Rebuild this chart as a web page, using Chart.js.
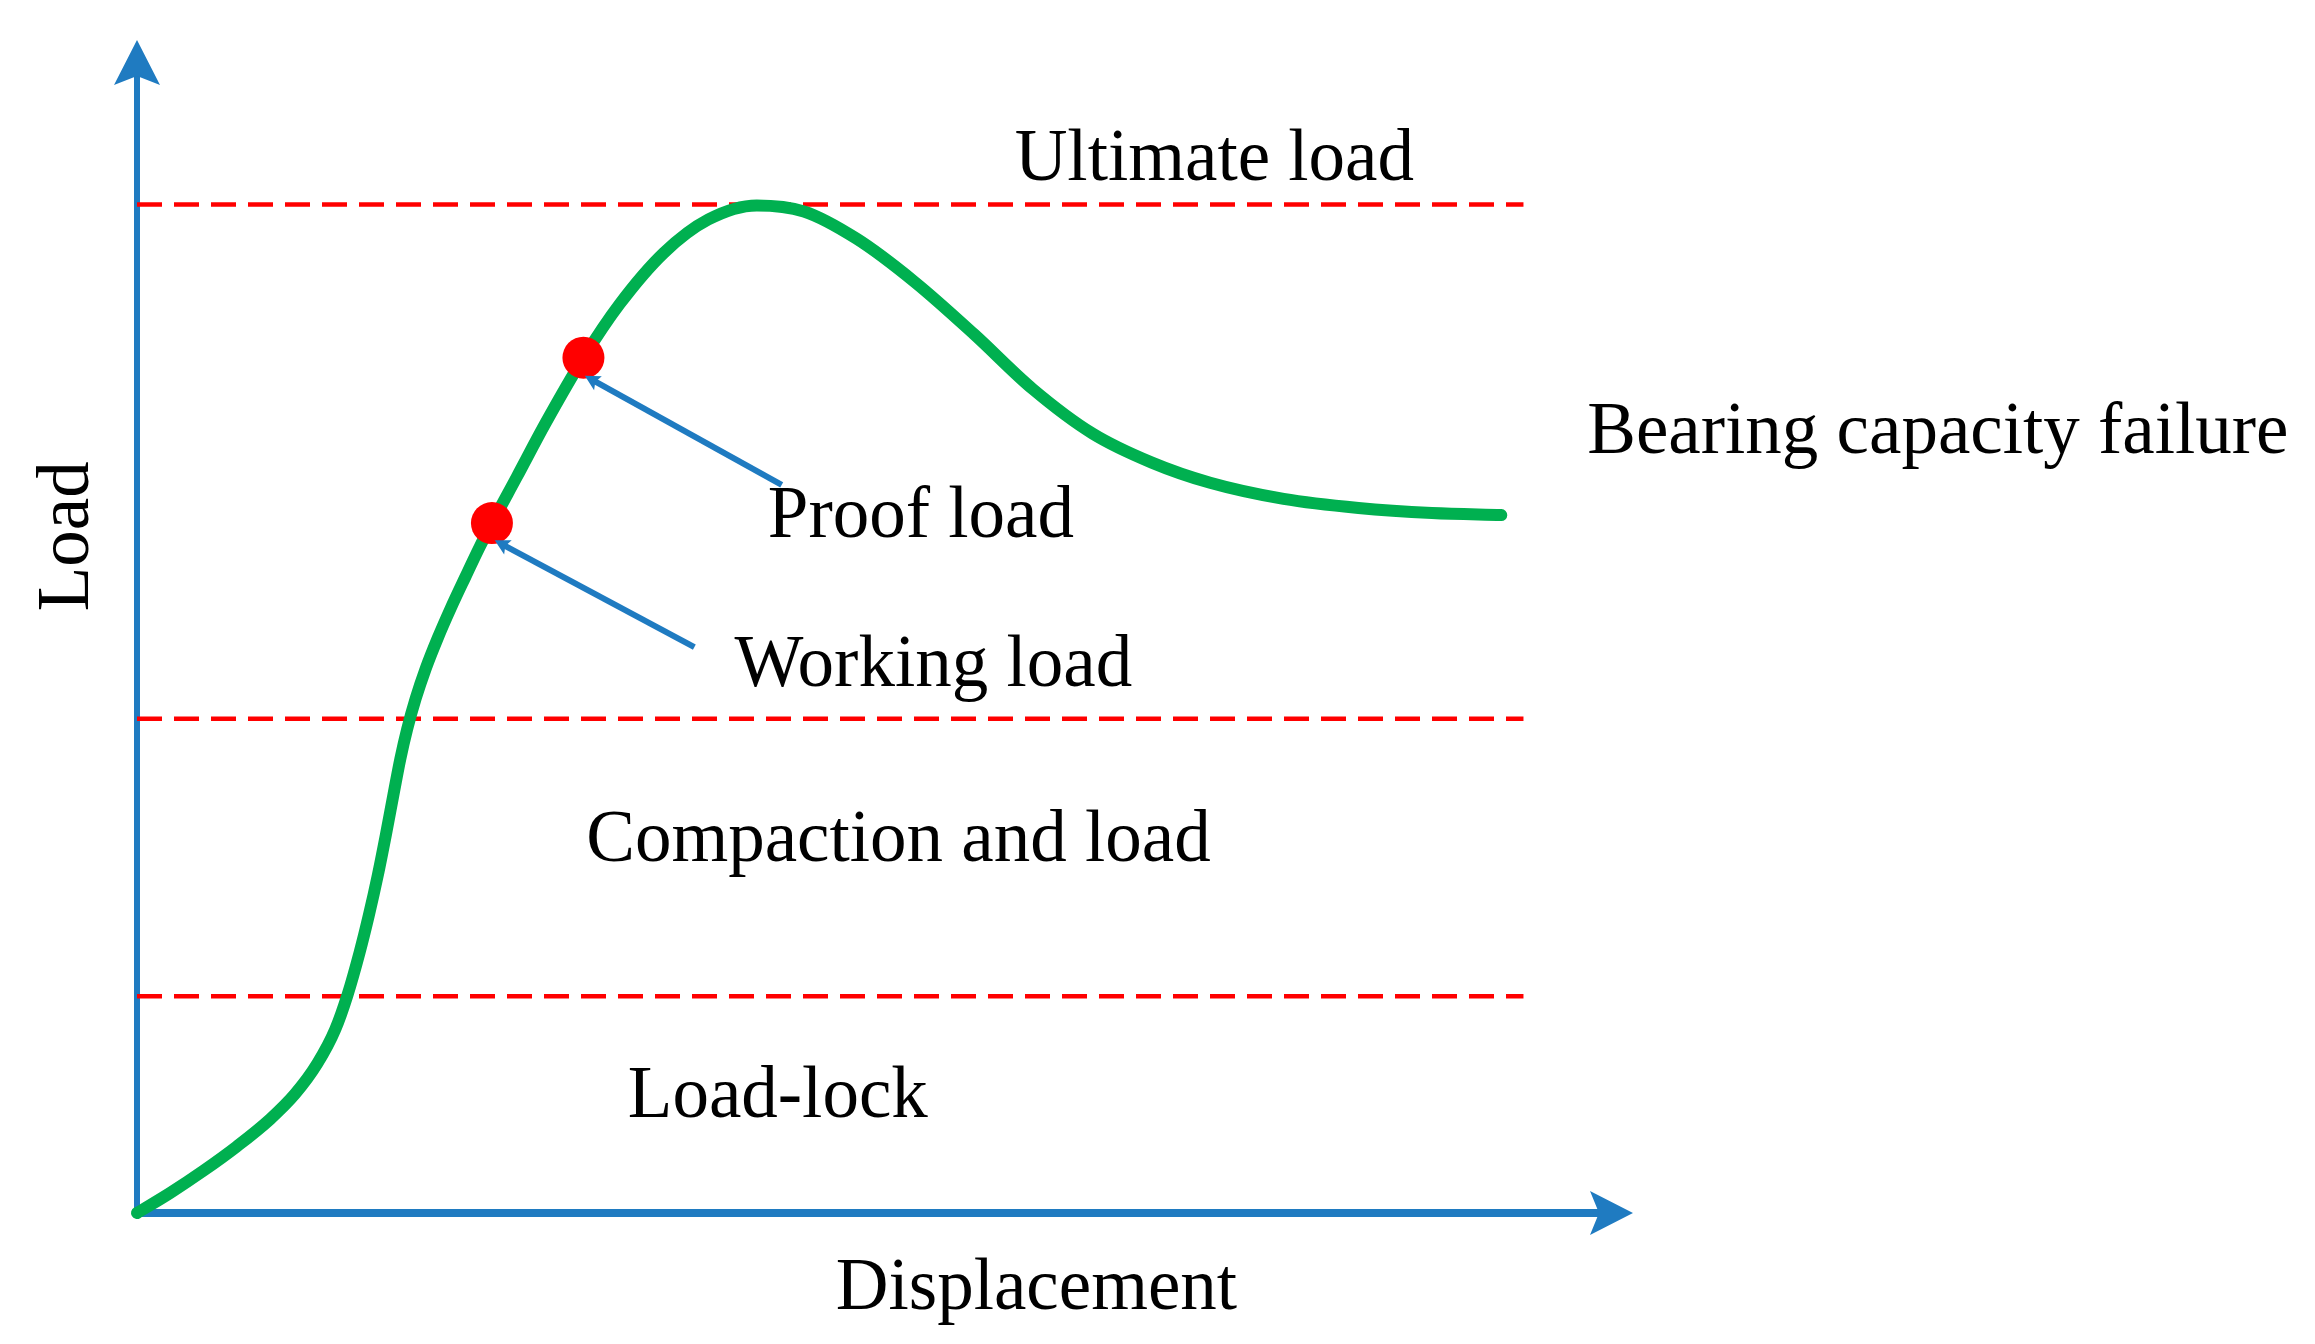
<!DOCTYPE html>
<html>
<head>
<meta charset="utf-8">
<script src="https://cdn.jsdelivr.net/npm/chart.js@4/dist/chart.umd.min.js"></script>
<style>
  html, body { margin: 0; padding: 0; background: #ffffff; }
  canvas { display: block; }
</style>
</head>
<body>
<canvas id="chart" width="2315" height="1344"></canvas>
<script>
// ---- Data (arbitrary units: displacement 0..100, load 0..100 = ultimate load) ----
const curveX = [0, 2.4, 4.8, 7.2, 9.6, 11.4, 13.0, 14.3, 15.18, 16.05, 16.72, 17.37, 17.95, 18.5, 18.99, 19.49, 20.1, 20.83, 21.69, 22.64, 23.66, 24.7, 25.6, 27.4, 29.5, 32.2, 34.8, 38.0, 41.2, 44.7, 48.1, 51.9, 56.1, 60.4, 64.6, 68.9, 73.2, 77.4, 82.7, 88.1, 93.4, 98.4];
const curveY = [0, 2.0, 4.2, 6.6, 9.3, 11.8, 14.8, 18.2, 21.6, 25.8, 29.5, 33.5, 37.5, 41.5, 45.0, 48.0, 51.0, 54.0, 57.0, 60.0, 63.0, 66.0, 68.4, 73.0, 78.4, 84.8, 90.1, 95.2, 98.5, 99.9, 99.3, 96.6, 92.3, 87.1, 81.7, 77.3, 74.4, 72.4, 70.8, 69.9, 69.4, 69.2];

const levelValues = [100, 49.0, 21.5];   // Ultimate load, compaction limit, load-lock limit
const levelStartX = 0;
const levelEndX = 100;

const markerNames = ['Working load', 'Proof load'];
const markerX = [25.6, 32.2];
const markerY = [68.4, 84.8];

const pointerTailX = [40.2, 46.5];
const pointerTailY = [56.1, 72.2];
const pointerHeadX = [25.8, 32.3];
const pointerHeadY = [66.7, 83.0];

const labelTexts = ['Ultimate load', 'Bearing capacity failure', 'Proof load', 'Working load', 'Compaction and load', 'Load-lock'];
const labelX = [63.3, 104.6, 45.5, 43.1, 32.4, 35.4];
const labelY = [102.4, 75.4, 67.0, 52.3, 34.9, 9.5];

const axisTitleX = 'Displacement';
const axisTitleY = 'Load';
const axisTitleXPos = [50.4, -9.5];
const axisTitleYPos = [-3.5, 67.1];
const axisMaxX = 107.9;
const axisMaxY = 116.3;

// ---- Styles ----
const AXIS_BLUE = '#1f7bc1';
const CURVE_GREEN = '#00b050';
const RED = '#ff0000';
const FONT = '73px "Liberation Serif", "Times New Roman", serif';

const curveData = curveX.map((x, i) => ({ x: x, y: curveY[i] }));
const markerData = markerX.map((x, i) => ({ x: x, y: markerY[i] }));
const levelDatasets = levelValues.map(v => ({
  data: [{ x: levelStartX, y: v }, { x: levelEndX, y: v }],
  showLine: true,
  borderColor: RED,
  borderWidth: 4.5,
  borderDash: [25, 12],
  pointRadius: 0,
  fill: false,
  clip: false,
  order: 3
}));

function drawArrowHead(ctx, tipX, tipY, angle, len, halfW, notch) {
  ctx.save();
  ctx.translate(tipX, tipY);
  ctx.rotate(angle);
  ctx.beginPath();
  ctx.moveTo(0, 0);
  ctx.lineTo(-len, -halfW);
  ctx.lineTo(-len + notch, 0);
  ctx.lineTo(-len, halfW);
  ctx.closePath();
  ctx.fill();
  ctx.restore();
}

const overlay = {
  id: 'overlay',
  beforeDatasetsDraw(chart) {
    const ctx = chart.ctx;
    const xs = chart.scales.x, ys = chart.scales.y;
    const ox = xs.getPixelForValue(0), oy = ys.getPixelForValue(0);
    const tx = xs.getPixelForValue(axisMaxX), ty = ys.getPixelForValue(axisMaxY);
    ctx.save();
    ctx.strokeStyle = AXIS_BLUE;
    ctx.fillStyle = AXIS_BLUE;
    ctx.lineCap = 'butt';
    // y axis
    ctx.lineWidth = 6;
    ctx.beginPath();
    ctx.moveTo(ox, oy + 3);
    ctx.lineTo(ox, ty + 30);
    ctx.stroke();
    drawArrowHead(ctx, ox, ty, -Math.PI / 2, 45, 23, 9);
    // x axis
    ctx.lineWidth = 8;
    ctx.beginPath();
    ctx.moveTo(ox - 3, oy);
    ctx.lineTo(tx - 30, oy);
    ctx.stroke();
    drawArrowHead(ctx, tx, oy, 0, 43, 22, 9);
    ctx.restore();
  },
  afterDatasetsDraw(chart) {
    const ctx = chart.ctx;
    const xs = chart.scales.x, ys = chart.scales.y;
    ctx.save();
    // pointer arrows
    ctx.strokeStyle = AXIS_BLUE;
    ctx.fillStyle = AXIS_BLUE;
    ctx.lineWidth = 6;
    for (let i = 0; i < pointerTailX.length; i++) {
      const x1 = xs.getPixelForValue(pointerTailX[i]), y1 = ys.getPixelForValue(pointerTailY[i]);
      const x2 = xs.getPixelForValue(pointerHeadX[i]), y2 = ys.getPixelForValue(pointerHeadY[i]);
      const ang = Math.atan2(y2 - y1, x2 - x1);
      ctx.beginPath();
      ctx.moveTo(x1, y1);
      ctx.lineTo(x2 - 8 * Math.cos(ang), y2 - 8 * Math.sin(ang));
      ctx.stroke();
      drawArrowHead(ctx, x2, y2, ang, 15, 8, 3);
    }
    // labels
    ctx.fillStyle = '#000000';
    ctx.font = FONT;
    ctx.textAlign = 'left';
    ctx.textBaseline = 'alphabetic';
    for (let i = 0; i < labelTexts.length; i++) {
      ctx.fillText(labelTexts[i], xs.getPixelForValue(labelX[i]), ys.getPixelForValue(labelY[i]));
    }
    // axis titles
    ctx.fillText(axisTitleX, xs.getPixelForValue(axisTitleXPos[0]), ys.getPixelForValue(axisTitleXPos[1]));
    ctx.save();
    ctx.translate(xs.getPixelForValue(axisTitleYPos[0]), ys.getPixelForValue(axisTitleYPos[1]));
    ctx.rotate(-Math.PI / 2);
    ctx.textAlign = 'center';
    ctx.fillText(axisTitleY, 0, 0);
    ctx.restore();
    ctx.restore();
  }
};

new Chart(document.getElementById('chart'), {
  type: 'scatter',
  data: {
    datasets: [
      {
        label: 'markers',
        data: markerData,
        pointRadius: 21,
        pointBackgroundColor: RED,
        pointBorderWidth: 0,
        pointHoverRadius: 21,
        clip: false,
        order: 0
      },
      {
        label: 'Load-displacement curve',
        data: curveData,
        showLine: true,
        borderColor: CURVE_GREEN,
        borderWidth: 12,
        cubicInterpolationMode: 'monotone',
        pointRadius: 0,
        fill: false,
        clip: false,
        borderCapStyle: 'round',
        borderJoinStyle: 'round',
        order: 1
      },
      ...levelDatasets
    ]
  },
  options: {
    responsive: false,
    animation: false,
    devicePixelRatio: 1,
    layout: { padding: { left: 137, right: 682, top: 40, bottom: 131 } },
    scales: {
      x: { type: 'linear', min: 0, max: axisMaxX, display: false },
      y: { type: 'linear', min: 0, max: axisMaxY, display: false }
    },
    plugins: {
      legend: { display: false },
      tooltip: { enabled: false }
    }
  },
  plugins: [overlay]
});
</script>
</body>
</html>
